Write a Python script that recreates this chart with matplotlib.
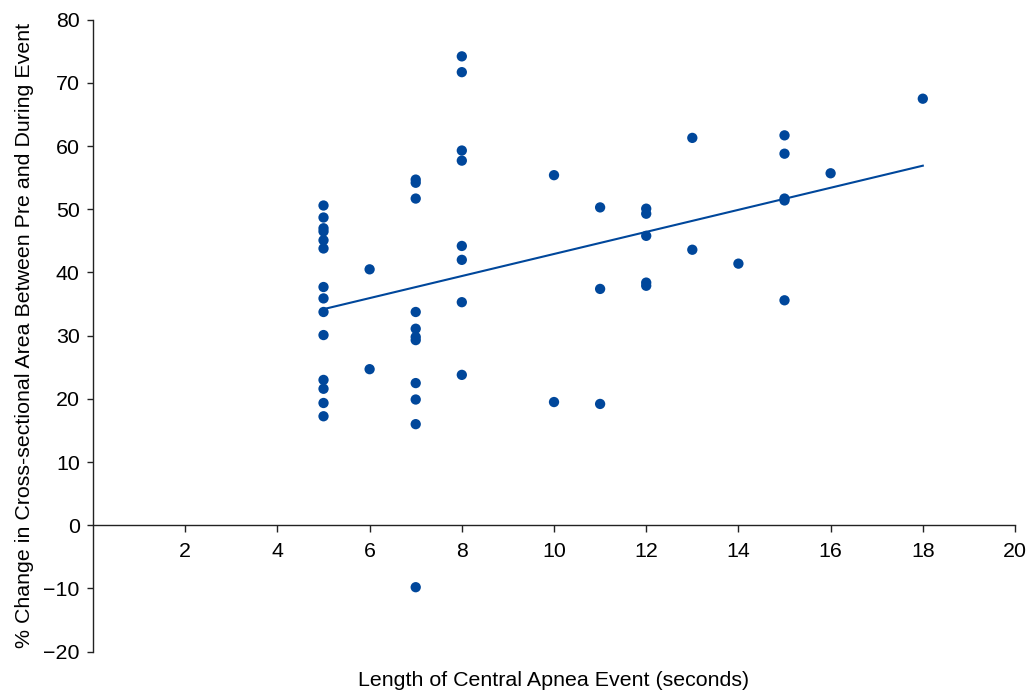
import matplotlib.pyplot as plt
import numpy as np

plt.rcParams['font.family'] = ['Liberation Sans', 'DejaVu Sans']

# event length (s) and % change
event_len = [5, 5, 5, 5, 5, 5, 5, 5, 5, 5, 5, 5, 5, 5,
             6, 6,
             7, 7, 7, 7, 7, 7, 7, 7, 7, 7, 7,
             8, 8, 8, 8, 8, 8, 8, 8,
             10, 10,
             11, 11, 11,
             12, 12, 12, 12, 12,
             13, 13,
             14,
             15, 15, 15, 15, 15,
             16,
             18]
pct_change = [50.6, 48.7, 47.0, 46.5, 45.1, 43.8, 37.7, 35.9, 33.75, 30.1, 23.0, 21.6, 19.35, 17.25,
              40.5, 24.7,
              54.7, 54.2, 51.7, 33.75, 31.1, 29.8, 29.3, 22.5, 19.9, 16.0, -9.8,
              74.2, 71.7, 59.3, 57.7, 44.2, 42.0, 35.3, 23.8,
              55.4, 19.5,
              50.3, 37.4, 19.2,
              50.1, 49.3, 45.8, 38.4, 37.9,
              61.3, 43.6,
              41.4,
              61.7, 58.8, 51.7, 51.4, 35.6,
              55.7,
              67.5]

# regression line as drawn
trend_x = [5, 18]
trend_y = [34.2, 56.9]

blue = '#00479b'

fig = plt.figure(figsize=(10.29, 6.94), dpi=100)
ax = fig.add_axes([0.0904, 0.0610, 0.8960, 0.9106])

ax.scatter(event_len, pct_change, s=55, color=blue, edgecolors='none', zorder=3)
ax.plot(trend_x, trend_y, color=blue, lw=1.5, zorder=2)

ax.set_xlim(0, 20)
ax.set_ylim(-20, 80)
ax.set_xticks(np.arange(2, 21, 2))
ax.set_yticks(np.arange(-20, 81, 10))
ax.set_yticklabels([str(v).replace('-', '\u2212') for v in range(-20, 81, 10)])

for side in ['top', 'right']:
    ax.spines[side].set_visible(False)
ax.spines['bottom'].set_position(('data', 0))
ax.spines['left'].set_position(('data', 0))
for side in ['bottom', 'left']:
    ax.spines[side].set_linewidth(1.0)
    ax.spines[side].set_color('#222222')

ax.tick_params(axis='x', direction='out', length=5, width=1.0, pad=7,
               labelsize=15.4, color='#222222')
ax.tick_params(axis='y', direction='out', length=4.5, width=1.0, pad=5,
               labelsize=15.4, color='#222222')

ax.set_xlabel('Length of Central Apnea Event (seconds)', fontsize=15.4)
ax.xaxis.set_label_coords(0.5, -0.03)
ax.set_ylabel('% Change in Cross-sectional Area Between Pre and During Event', fontsize=15.4)
ax.yaxis.set_label_coords(-0.064, 0.5)

fig.savefig('out.png', dpi=100)
